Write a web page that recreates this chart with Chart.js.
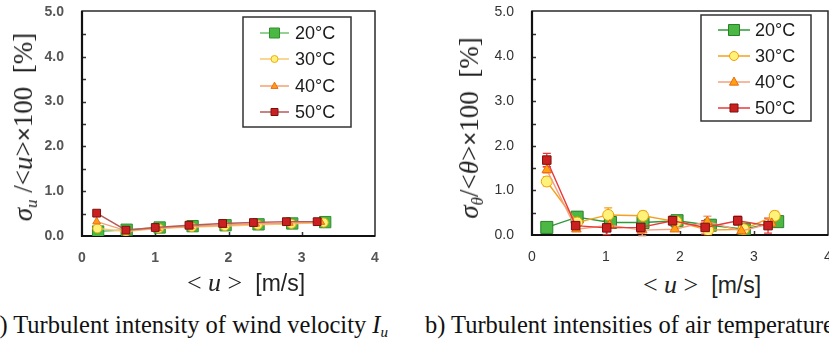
<!DOCTYPE html>
<html>
<head>
<meta charset="utf-8">
<script src="https://cdn.jsdelivr.net/npm/chart.js@4/dist/chart.umd.min.js"></script>
<style>
  html, body { margin: 0; padding: 0; background: #fff; }
  body { width: 829px; height: 343px; overflow: hidden; position: relative; }
  .cv { position: absolute; top: 0; }
  .ytitle { position: absolute; white-space: nowrap; font-family: "Liberation Serif", serif; font-size: 27px; color: #222;
            transform: translate(-50%, -50%) rotate(-90deg); }
  .ytitle i { font-style: italic; }
  .ytitle sub { font-size: 17px; vertical-align: -5px; }
  .ytitle .s { font-family: "Liberation Sans", sans-serif; font-size: 24px; }
  .xtitle { position: absolute; white-space: nowrap; font-family: "Liberation Serif", serif; font-size: 26px; color: #222;
            transform: translate(-50%, -50%); }
  .xtitle .s { font-family: "Liberation Sans", sans-serif; font-size: 23px; }
  .cap { position: absolute; white-space: nowrap; font-family: "Liberation Serif", serif; font-size: 24.5px; color: #111; top: 311px; }
  .cap sub { font-size: 15px; vertical-align: -4px; }
</style>
</head>
<body>
<div class="cv" style="left:0px;width:400px;height:270px;"><canvas id="c1" width="400" height="270"></canvas></div>
<div class="cv" style="left:420px;width:440px;height:270px;"><canvas id="c2" width="440" height="270"></canvas></div>

<div class="ytitle" style="left:25px;top:127px;"><i>σ<sub>u</sub></i>&nbsp;/&lt;<i>u</i>&gt;<span class="s">×</span>100&nbsp;&nbsp;[%]</div>
<div class="ytitle" style="left:471px;top:128px;"><i>σ<sub>θ</sub></i>/&lt;<i>θ</i>&gt;<span class="s">×</span>100&nbsp;&nbsp;[%]</div>

<div class="xtitle" style="left:246px;top:283px;">&lt;&nbsp;<i>u</i>&nbsp;&gt;&nbsp;&nbsp;<span class="s">[m/s]</span></div>
<div class="xtitle" style="left:702px;top:285px;">&lt;&nbsp;<i>u</i>&nbsp;&gt;&nbsp;&nbsp;<span class="s">[m/s]</span></div>

<div class="cap" style="right:441px;">a) Turbulent intensity of wind velocity <i>I<sub>u</sub></i></div>
<div class="cap" style="left:425px;">b) Turbulent intensities of air temperature</div>

<script>
// ---------------- DATA ----------------
const seriesNames = ['20°C', '30°C', '40°C', '50°C'];
const xTicks = [0, 1, 2, 3, 4];
const yTicks = [0, 1, 2, 3, 4, 5];

// (a) wind velocity turbulence intensity
const a20x = [0.22, 0.61, 1.06, 1.51, 1.96, 2.41, 2.87, 3.32];
const a20y = [0.10, 0.14, 0.19, 0.22, 0.24, 0.26, 0.28, 0.31];
const a30x = [0.21, 0.60, 1.05, 1.50, 1.95, 2.40, 2.86, 3.30];
const a30y = [0.17, 0.10, 0.17, 0.20, 0.22, 0.25, 0.27, 0.30];
const a40x = [0.20, 0.60, 1.03, 1.48, 1.93, 2.37, 2.83, 3.26];
const a40y = [0.32, 0.12, 0.17, 0.21, 0.24, 0.27, 0.29, 0.31];
const a50x = [0.20, 0.60, 1.00, 1.46, 1.92, 2.34, 2.79, 3.21];
const a50y = [0.51, 0.13, 0.19, 0.24, 0.28, 0.30, 0.32, 0.32];

// (b) air temperature turbulence intensity (with error bars)
const b20x = [0.20, 0.61, 1.06, 1.50, 1.96, 2.41, 2.87, 3.32];
const b20y = [0.17, 0.40, 0.28, 0.28, 0.32, 0.22, 0.13, 0.30];
const b20e = [0.03, 0.12, 0.05, 0.05, 0.05, 0.05, 0.05, 0.05];
const b30x = [0.20, 0.61, 1.03, 1.50, 1.95, 2.38, 2.86, 3.28];
const b30y = [1.20, 0.28, 0.45, 0.43, 0.30, 0.11, 0.13, 0.43];
const b30e = [0.10, 0.05, 0.16, 0.10, 0.05, 0.10, 0.05, 0.10];
const b40x = [0.20, 0.60, 1.05, 1.49, 1.93, 2.37, 2.83, 3.24];
const b40y = [1.46, 0.13, 0.22, 0.11, 0.13, 0.30, 0.09, 0.26];
const b40e = [0.07, 0.05, 0.05, 0.13, 0.05, 0.12, 0.05, 0.08];
const b50x = [0.20, 0.59, 1.01, 1.47, 1.90, 2.34, 2.78, 3.19];
const b50y = [1.68, 0.21, 0.16, 0.17, 0.32, 0.17, 0.32, 0.21];
const b50e = [0.15, 0.08, 0.15, 0.12, 0.10, 0.15, 0.10, 0.17];

// ---------------- HELPERS ----------------
const pts = (xs, ys) => xs.map((x, i) => ({ x: x, y: ys[i] }));

function drawMarker(ctx, style, x, y, size, fill, stroke) {
  ctx.save();
  ctx.fillStyle = fill; ctx.strokeStyle = stroke; ctx.lineWidth = 1;
  ctx.beginPath();
  if (style === 'rect') {
    ctx.rect(x - size / 2, y - size / 2, size, size);
  } else if (style === 'circle') {
    ctx.arc(x, y, size / 2, 0, Math.PI * 2);
  } else if (style === 'triangle') {
    const r = size / 2;
    ctx.moveTo(x, y - r * 1.1);
    ctx.lineTo(x + r, y + r * 0.7);
    ctx.lineTo(x - r, y + r * 0.7);
    ctx.closePath();
  }
  ctx.fill(); ctx.stroke();
  ctx.restore();
}

const framePlugin = {
  id: 'frameTicks',
  beforeDatasetsDraw(chart) {
    const { ctx, chartArea: a, scales } = chart;
    ctx.save();
    ctx.strokeStyle = '#333';
    ctx.lineWidth = 1.5;
    ctx.beginPath();
    for (let v = 0.5; v < 5; v += 0.5) {
      const py = Math.round(scales.y.getPixelForValue(v)) + 0.5;
      ctx.moveTo(a.left, py); ctx.lineTo(a.left + 4, py);
    }
    for (let v = 1; v < 4; v += 1) {
      const px = Math.round(scales.x.getPixelForValue(v)) + 0.5;
      ctx.moveTo(px, a.bottom); ctx.lineTo(px, a.bottom - 4);
    }
    ctx.stroke();
    ctx.strokeStyle = '#2a2a2a';
    ctx.lineWidth = 1.5;
    ctx.strokeRect(a.left, a.top - 1, a.right - a.left, a.bottom - a.top + 1);
    ctx.strokeStyle = '#111';
    ctx.lineWidth = 2.2;
    ctx.beginPath();
    ctx.moveTo(a.left, a.top - 1); ctx.lineTo(a.left, a.bottom); ctx.lineTo(a.right, a.bottom);
    ctx.stroke();
    ctx.restore();
  }
};

const errorBarPlugin = {
  id: 'errorBars',
  beforeDatasetsDraw(chart) {
    const { ctx, scales } = chart;
    chart.data.datasets.forEach((ds, di) => {
      if (!ds.errors) return;
      const meta = chart.getDatasetMeta(di);
      ctx.save();
      ctx.strokeStyle = ds.errorColor || ds.borderColor;
      ctx.lineWidth = 1.3;
      ctx.beginPath();
      meta.data.forEach((el, i) => {
        const v = ds.data[i].y, e = ds.errors[i];
        const x = el.x;
        const yT = scales.y.getPixelForValue(v + e);
        const yB = scales.y.getPixelForValue(v - e);
        ctx.moveTo(x, yT); ctx.lineTo(x, yB);
        ctx.moveTo(x - 4, yT); ctx.lineTo(x + 4, yT);
        ctx.moveTo(x - 4, yB); ctx.lineTo(x + 4, yB);
      });
      ctx.stroke();
      ctx.restore();
    });
  }
};

const legendPlugin = {
  id: 'boxLegend',
  afterDraw(chart) {
    const o = chart.options.plugins.boxLegend;
    if (!o) return;
    const { ctx } = chart;
    ctx.save();
    ctx.fillStyle = '#fff';
    ctx.fillRect(o.x, o.y, o.w, o.h);
    ctx.strokeStyle = '#333';
    ctx.lineWidth = 1.5;
    ctx.strokeRect(o.x, o.y, o.w, o.h);
    chart.data.datasets.forEach((ds, i) => {
      const yy = o.rows[i];
      ctx.strokeStyle = ds.borderColor;
      ctx.lineWidth = 1.5;
      ctx.beginPath(); ctx.moveTo(o.lx1, yy); ctx.lineTo(o.lx2, yy); ctx.stroke();
      drawMarker(ctx, ds.pointStyle, (o.lx1 + o.lx2) / 2, yy, o.sizes[i], ds.pointBackgroundColor, ds.pointBorderColor);
      ctx.fillStyle = '#1a1a1a';
      ctx.font = '18px "Liberation Sans", Arial, sans-serif';
      ctx.textBaseline = 'middle';
      ctx.textAlign = 'left';
      ctx.fillText(ds.label, o.tx, yy + 1);
    });
    ctx.restore();
  }
};

function makeDS(label, data, line, fill, border, style, radius, order, errors) {
  const d = {
    label: label, data: data, showLine: true, borderColor: line, borderWidth: 1.4,
    pointStyle: style, pointRadius: radius, pointHoverRadius: radius,
    pointBackgroundColor: fill, pointBorderColor: border, pointBorderWidth: 1,
    order: order, tension: 0
  };
  if (errors) { d.errors = errors; d.errorColor = line; }
  return d;
}

function scalesCfg(yWidth, xHeight, weight, color) {
  const tickFont = { family: '"Liberation Sans", Arial, sans-serif', size: 14, weight: weight };
  return {
    x: {
      type: 'linear', min: xTicks[0], max: xTicks[xTicks.length - 1],
      grid: { display: false, drawTicks: false }, border: { display: false },
      ticks: { stepSize: 1, padding: 14, color: color, font: tickFont, maxRotation: 0,
               callback: v => xTicks.includes(v) ? String(v) : '' },
      afterFit: s => { s.height = xHeight; }
    },
    y: {
      type: 'linear', min: yTicks[0], max: yTicks[yTicks.length - 1],
      grid: { display: false, drawTicks: false }, border: { display: false },
      ticks: { stepSize: 1, padding: 18, color: color, font: tickFont,
               callback: v => yTicks.includes(v) ? v.toFixed(1) : '' },
      afterFit: s => { s.width = yWidth; s.paddingTop = 0; s.paddingBottom = 0; }
    }
  };
}

const commonPlugins = { legend: { display: false }, tooltip: { enabled: false } };

// -------- Chart (a) --------
new Chart(document.getElementById('c1'), {
  type: 'scatter',
  data: {
    datasets: [
      makeDS(seriesNames[0], pts(a20x, a20y), '#72c072', '#4cb844', '#2f8f2f', 'rect', 8, 4),
      makeDS(seriesNames[1], pts(a30x, a30y), '#f8c870', '#fff27a', '#f2ad10', 'circle', 4.5, 3),
      makeDS(seriesNames[2], pts(a40x, a40y), '#f7a070', '#ff9a1a', '#e8701a', 'triangle', 4.5, 2),
      makeDS(seriesNames[3], pts(a50x, a50y), '#b85a5a', '#cc2020', '#7a1010', 'rect', 5.5, 1)
    ]
  },
  options: {
    responsive: false, animation: false, events: [],
    layout: { padding: { top: 12, right: 25, left: 0, bottom: 0 } },
    scales: scalesCfg(82, 34, 'bold', '#555'),
    plugins: Object.assign({}, commonPlugins, {
      boxLegend: { x: 243, y: 17, w: 108, h: 110, rows: [33, 59, 86, 112], lx1: 260, lx2: 289, tx: 295, sizes: [10, 7, 7, 7] }
    })
  },
  plugins: [framePlugin, errorBarPlugin, legendPlugin]
});

// -------- Chart (b) --------
new Chart(document.getElementById('c2'), {
  type: 'scatter',
  data: {
    datasets: [
      makeDS(seriesNames[0], pts(b20x, b20y), '#2f9a3a', '#4cb844', '#2a7f2a', 'rect', 8.5, 4, b20e),
      makeDS(seriesNames[1], pts(b30x, b30y), '#f5a020', '#fff27a', '#f0a000', 'circle', 5.5, 3, b30e),
      makeDS(seriesNames[2], pts(b40x, b40y), '#f5a080', '#ffa010', '#e86a10', 'triangle', 5.5, 2, b40e),
      makeDS(seriesNames[3], pts(b50x, b50y), '#e83a3a', '#cc2020', '#7a1010', 'rect', 6, 1, b50e)
    ]
  },
  options: {
    responsive: false, animation: false, events: [],
    layout: { padding: { top: 12, right: 32, left: 0, bottom: 0 } },
    scales: scalesCfg(112, 35, 'normal', '#333'),
    plugins: Object.assign({}, commonPlugins, {
      boxLegend: { x: 281, y: 15, w: 110, h: 106, rows: [30, 56, 82, 108], lx1: 298, lx2: 330, tx: 335, sizes: [11, 9, 9, 8] }
    })
  },
  plugins: [framePlugin, errorBarPlugin, legendPlugin]
});
</script>
</body>
</html>
